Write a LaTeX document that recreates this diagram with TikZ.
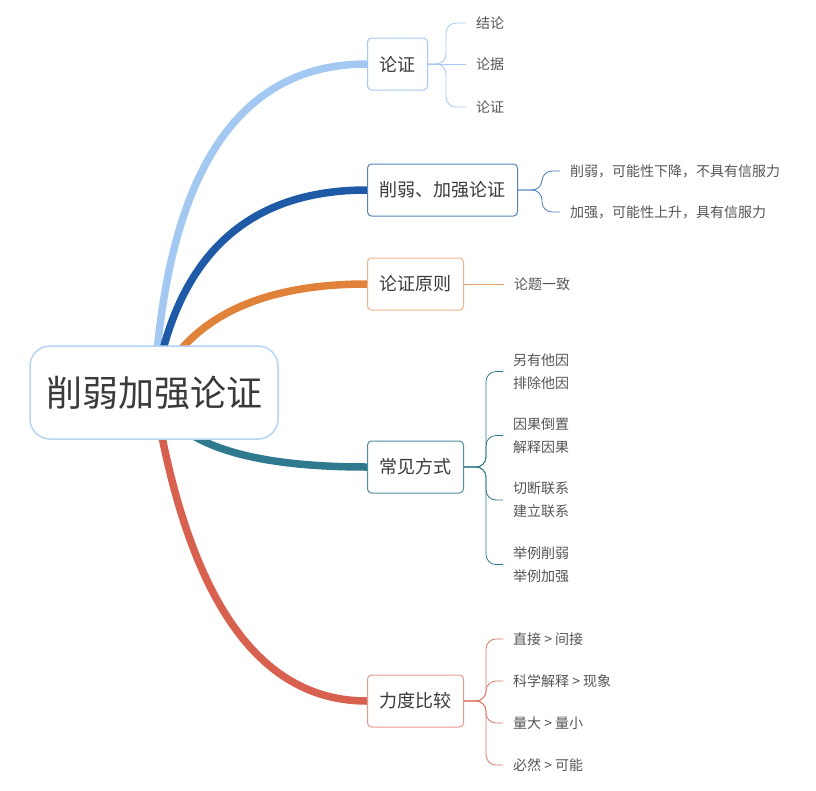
\documentclass[tikz,border=0pt]{standalone}
\usepackage{fontspec}
\setmainfont{Noto Sans CJK SC}
\usepackage{tikz}
\usetikzlibrary{backgrounds}
\definecolor{lblue}{HTML}{A3C9F2}
\definecolor{dblue}{HTML}{1F5AA6}
\definecolor{orng}{HTML}{E0823A}
\definecolor{teal}{HTML}{2F7A8E}
\definecolor{brick}{HTML}{D8604F}
\definecolor{txt}{HTML}{3A3A3A}
\definecolor{leaftxt}{HTML}{555555}

\begin{document}
\begin{tikzpicture}[x=1pt,y=-1pt,
    topic/.style={draw=#1,line width=1pt,fill=white,rounded corners=4pt,anchor=west,
        minimum height=52pt,inner xsep=12pt,text=txt,font=\fontsize{18}{20}\selectfont},
    leaf/.style={anchor=west,inner xsep=10pt,inner ysep=2pt,align=left,text=leaftxt,
        font=\fontsize{14}{23}\selectfont},
    branch/.style={line width=7.5pt,#1},
    brace/.style={line width=0.8pt,rounded corners=10pt,#1}]
        \useasboundingbox (0,0) rectangle (816,790);

        % root
        \node[draw=lblue!80!white,line width=1.5pt,fill=white,rounded corners=20pt,
            minimum width=248pt,minimum height=93pt,text=txt,
            font=\fontsize{36}{40}\selectfont] (root) at (154,392.5) {削弱加强论证};

        % main topics
        \node[topic=lblue] (lz) at (367,64) {论证};
        \node[topic=dblue!75!white] (xr) at (367,190) {削弱、加强论证};
        \node[topic=orng!60!white] (yz) at (367,284) {论证原则};
        \node[topic=teal!85!white] (fs) at (367,467) {常见方式};
        \node[topic=brick!65!white] (ld) at (367,701) {力度比较};

        % branches
        \begin{scope}[on background layer]
            \draw[branch=lblue] (root.center) .. controls +(12,-219) and +(-130,0) .. (lz.west);
            \draw[branch=dblue] (root.center) .. controls +(21,-135) and +(-121,0) .. (xr.west);
            \draw[branch=orng] (root.center) .. controls +(31,-72) and +(-111,0) .. (yz.west);
            \draw[branch=teal] (root.center) .. controls +(19,50) and +(-123,0) .. (fs.west);
            \draw[branch=brick] (root.center) .. controls +(33,206) and +(-109,0) .. (ld.west);
        \end{scope}

        % lunzheng
        \node[leaf] (lz1) at (466,23) {结论};
        \node[leaf] (lz2) at (466,64) {论据};
        \node[leaf] (lz3) at (466,107) {论证};
        \coordinate (jlz) at (446,64);
        \foreach \n in {lz1,lz3}
            \draw[brace=lblue] (lz.east) -- (jlz) |- (\n.west);
        \draw[brace=lblue] (lz.east) -- (lz2.west);

        % xueruo jiaqiang
        \node[leaf] (xr1) at (560,171) {削弱，可能性下降，不具有信服力};
        \node[leaf] (xr2) at (560,212) {加强，可能性上升，具有信服力};
        \coordinate (jxr) at (542,190);
        \foreach \n in {xr1,xr2}
            \draw[brace=dblue!80!white] (xr.east) -- (jxr) |- (\n.west);

        % yuanze
        \node[leaf] (yz1) at (504,284) {论题一致};
        \draw[brace=orng!75!white] (yz.east) -- (yz1.west);

        % fangshi
        \node[leaf] (fs1) at (503,371.5) {另有他因\\排除他因};
        \node[leaf] (fs2) at (503,435.5) {因果倒置\\解释因果};
        \node[leaf] (fs3) at (503,500) {切断联系\\建立联系};
        \node[leaf] (fs4) at (503,564.5) {举例削弱\\举例加强};
        \coordinate (jfs) at (486,467);
        \foreach \n in {fs1,fs2,fs3,fs4}
            \draw[brace=teal] (fs.east) -- (jfs) |- (\n.west);

        % lidu
        \node[leaf] (ld1) at (503,639) {直接 > 间接};
        \node[leaf] (ld2) at (503,681) {科学解释 > 现象};
        \node[leaf] (ld3) at (503,723) {量大 > 量小};
        \node[leaf] (ld4) at (503,765) {必然 > 可能};
        \coordinate (jld) at (486,701);
        \foreach \n in {ld1,ld2,ld3,ld4}
            \draw[brace=brick!85!white] (ld.east) -- (jld) |- (\n.west);
    \end{tikzpicture}
\end{document}
